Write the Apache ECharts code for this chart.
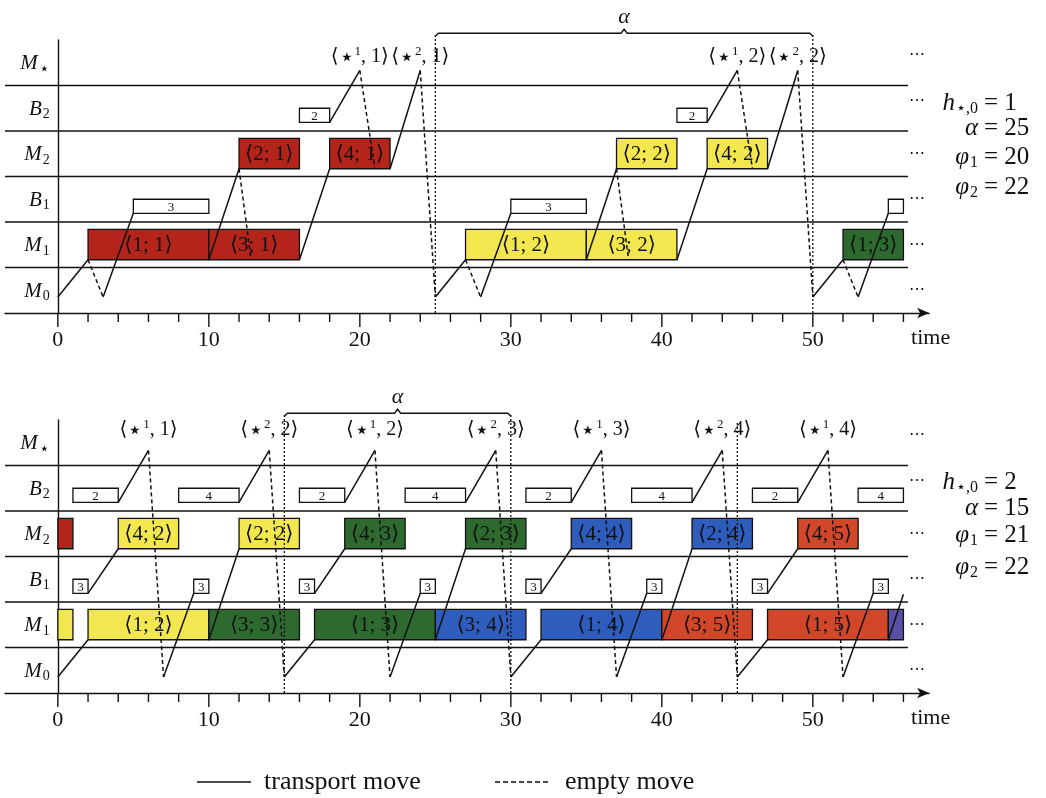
<!DOCTYPE html>
<html><head><meta charset="utf-8">
<script src="https://cdn.jsdelivr.net/npm/echarts@6/dist/echarts.min.js"></script>
<style>html,body{margin:0;padding:0;background:#fff}#c{width:1046px;height:798px}</style>
</head><body><div id="c"></div>
<script>
// ---------- data ----------
const rows = ['M0', 'M1', 'B1', 'M2', 'B2', 'M*'];
const rowLetter = {M0:'M', M1:'M', B1:'B', M2:'M', B2:'B', 'M*':'M'};
const rowSub = {M0:'0', M1:'1', B1:'1', M2:'2', B2:'2', 'M*':'⋆'};
const tickValues = [0,2,4,6,8,10,12,14,16,18,20,22,24,26,28,30,32,34,36,38,40,42,44,46,48,50,52,54,56];
const tickLabels = [0,10,20,30,40,50];
const legendNames = ['transport move', 'empty move'];

// top panel
const topJobs = [
  ['M1', 2, 10, '1; 1', 1], ['M1', 10, 16, '3; 1', 1], ['M2', 12, 16, '2; 1', 1], ['M2', 18, 22, '4; 1', 1],
  ['M1', 27, 35, '1; 2', 2], ['M1', 35, 41, '3; 2', 2], ['M2', 37, 41, '2; 2', 2], ['M2', 43, 47, '4; 2', 2],
  ['M1', 52, 56, '1; 3', 3]
];
const topBuffers = [['B1', 5, 10, '3'], ['B2', 16, 18, '2'], ['B1', 30, 35, '3'], ['B2', 41, 43, '2'], ['B1', 55, 56, '']];
const topTransport = [
  [0,'M0',2,'M1'], [3,'M0',5,'B1'], [10,'M1',12,'M2'], [16,'M1',18,'M2'], [18,'B2',20,'M*'], [22,'M2',24,'M*'],
  [25,'M0',27,'M1'], [28,'M0',30,'B1'], [35,'M1',37,'M2'], [41,'M1',43,'M2'], [43,'B2',45,'M*'], [47,'M2',49,'M*'],
  [50,'M0',52,'M1'], [53,'M0',55,'B1']
];
const topEmpty = [
  [2,'M1',3,'M0'], [12,'M2',12.8,'M1'], [20,'M*',21,'M2'], [24,'M*',25,'M0'], [27,'M1',28,'M0'],
  [37,'M2',37.8,'M1'], [45,'M*',46,'M2'], [49,'M*',50,'M0'], [52,'M1',53,'M0']
];
const topStars = [[20,'1','1'], [24,'2','1'], [45,'1','2'], [49,'2','2']];
const topBracket = [25, 50];
const topPeriodLines = [25, 50];
const topOpenLines = [];
const topParams = [['h','⋆,0','1'], ['α','','25'], ['φ','1','20'], ['φ','2','22']];

// bottom panel
const botJobs = [
  ['M2', 0, 1, '', 1], ['M1', 0, 1, '', 2],
  ['M1', 2, 10, '1; 2', 2], ['M2', 4, 8, '4; 2', 2], ['M1', 10, 16, '3; 3', 3], ['M2', 12, 16, '2; 2', 2],
  ['M1', 17, 25, '1; 3', 3], ['M2', 19, 23, '4; 3', 3], ['M1', 25, 31, '3; 4', 4], ['M2', 27, 31, '2; 3', 3],
  ['M1', 32, 40, '1; 4', 4], ['M2', 34, 38, '4; 4', 4], ['M1', 40, 46, '3; 5', 5], ['M2', 42, 46, '2; 4', 4],
  ['M1', 47, 55, '1; 5', 5], ['M2', 49, 53, '4; 5', 5], ['M1', 55, 56, '', 6]
];
const botBuffers = [
  ['B1', 1, 2, '3'], ['B2', 1, 4, '2'], ['B1', 9, 10, '3'], ['B2', 8, 12, '4'], ['B1', 16, 17, '3'], ['B2', 16, 19, '2'],
  ['B1', 24, 25, '3'], ['B2', 23, 27, '4'], ['B1', 31, 32, '3'], ['B2', 31, 34, '2'], ['B1', 39, 40, '3'], ['B2', 38, 42, '4'],
  ['B1', 46, 47, '3'], ['B2', 46, 49, '2'], ['B1', 54, 55, '3'], ['B2', 53, 56, '4']
];
const botTransport = [
  [0,'M0',2,'M1'], [2,'B1',4,'M2'], [4,'B2',6,'M*'], [7,'M0',9,'B1'], [10,'M1',12,'M2'], [12,'B2',14,'M*'],
  [15,'M0',17,'M1'], [17,'B1',19,'M2'], [19,'B2',21,'M*'], [22,'M0',24,'B1'], [25,'M1',27,'M2'], [27,'B2',29,'M*'],
  [30,'M0',32,'M1'], [32,'B1',34,'M2'], [34,'B2',36,'M*'], [37,'M0',39,'B1'], [40,'M1',42,'M2'], [42,'B2',44,'M*'],
  [45,'M0',47,'M1'], [47,'B1',49,'M2'], [49,'B2',51,'M*'], [52,'M0',54,'B1'], [55,'M1',57,'M2']
];
const botEmpty = [
  [6,'M*',7,'M0'], [14,'M*',15,'M0'], [21,'M*',22,'M0'], [29,'M*',30,'M0'], [36,'M*',37,'M0'], [44,'M*',45,'M0'], [51,'M*',52,'M0']
];
const botStars = [[6,'1','1'], [14,'2','2'], [21,'1','2'], [29,'2','3'], [36,'1','3'], [44,'2','4'], [51,'1','4']];
const botBracket = [15, 30];
const botPeriodLines = [15, 30];
const botOpenLines = [45];
const botParams = [['h','⋆,0','2'], ['α','','15'], ['φ','1','21'], ['φ','2','22']];

// ---------- styles ----------
const FONT = "'Liberation Serif','DejaVu Serif',serif";
const INK = '#111';
const COLORS = {1:'#b5241b', 2:'#f3e74f', 3:'#2e6a30', 4:'#2e5dbd', 5:'#d2462a', 6:'#5a4fa6'};
const ANCHOR = {M0:-0.15, M1:-0.33, B1:-0.31, M2:-0.33, B2:-0.31, 'M*':-0.17};
const CLIP_T = 56, ROWLINE_X0 = -3.5, ROWLINE_X1 = 56.3, DOTS_T = 56.9, BRACKET_UP = 0.65;

function pt(api, t, r, off) {
  const c = api.coord([t, rows.indexOf(r)]);
  const b = api.size([0, 1])[1];
  return [c[0], c[1] - (off === undefined ? ANCHOR[r] : off) * b];
}

function panel(p, d) {
  const base = {type: 'custom', xAxisIndex: p, yAxisIndex: p, clip: false, silent: true};
  const out = [];
  // row labels
  out.push(Object.assign({}, base, {z: 6,
    data: rows.map((r, i) => [0, i]),
    renderItem: (params, api) => {
      const r = rows[params.dataIndex];
      const a = pt(api, 0, r, 0);
      const star = r === 'M*';
      return {type: 'text', x: a[0] - 8, y: a[1] + 1, style: {
        text: '{m|' + rowLetter[r] + '}{' + (star ? 'st' : 's') + '|' + rowSub[r] + '}', align: 'right', verticalAlign: 'middle',
        rich: {m: {fontFamily: FONT, fontStyle: 'italic', fontSize: 21, fill: INK},
               s: {fontFamily: FONT, fontSize: 14, fill: INK, padding: [11, 0, 0, 1]},
               st: {fontFamily: FONT, fontSize: 17, fill: INK, padding: [11, 0, 0, 1]}}}};
    }}));
  // row separator lines
  out.push(Object.assign({}, base, {z: 1,
    data: [0,1,2,3,4].map(i => [ROWLINE_X0, i]),
    renderItem: (params, api) => {
      const r = rows[params.dataIndex];
      const a = pt(api, ROWLINE_X0, r, 0.5), b = pt(api, ROWLINE_X1, r, 0.5);
      return {type: 'line', shape: {x1: a[0], y1: a[1], x2: b[0], y2: b[1]}, style: {stroke: INK, lineWidth: 1.5}};
    }}));
  // jobs
  out.push(Object.assign({}, base, {z: 3,
    data: d.jobs.map(j => [j[1], rows.indexOf(j[0]), j[2]]),
    renderItem: (params, api) => {
      const j = d.jobs[params.dataIndex];
      const a = pt(api, j[1], j[0], 0.34), b = pt(api, j[2], j[0], -0.33);
      const ch = [{type: 'rect', shape: {x: a[0], y: a[1], width: b[0] - a[0], height: b[1] - a[1]},
        style: {fill: COLORS[j[4]], stroke: INK, lineWidth: 1.3}}];
      if (j[3]) ch.push({type: 'text', x: (a[0] + b[0]) / 2, y: (a[1] + b[1]) / 2 + 1,
        style: {text: '⟨' + j[3] + '⟩', fill: INK, font: '21px ' + FONT, align: 'center', verticalAlign: 'middle'}});
      return {type: 'group', children: ch};
    }}));
  // buffer boxes
  out.push(Object.assign({}, base, {z: 3,
    data: d.buffers.map(j => [j[1], rows.indexOf(j[0]), j[2]]),
    renderItem: (params, api) => {
      const j = d.buffers[params.dataIndex];
      const a = pt(api, j[1], j[0], 0.0), b = pt(api, j[2], j[0], -0.31);
      const ch = [{type: 'rect', shape: {x: a[0], y: a[1], width: b[0] - a[0], height: b[1] - a[1]},
        style: {fill: '#fff', stroke: INK, lineWidth: 1.3}}];
      if (j[3]) ch.push({type: 'text', x: (a[0] + b[0]) / 2, y: (a[1] + b[1]) / 2 + 1,
        style: {text: j[3], fill: INK, font: '13px ' + FONT, align: 'center', verticalAlign: 'middle'}});
      return {type: 'group', children: ch};
    }}));
  // period dotted lines (bracketed)
  out.push(Object.assign({}, base, {z: 4,
    data: d.periodLines.map(t => [t, 0]),
    renderItem: (params, api) => {
      const t = d.periodLines[params.dataIndex];
      const a = pt(api, t, 'M0', -0.5), b = pt(api, t, 'M*', BRACKET_UP);
      return {type: 'line', shape: {x1: a[0], y1: a[1], x2: b[0], y2: b[1]}, style: {stroke: INK, lineWidth: 1.3, lineDash: [2, 2]}};
    }}));
  out.push(Object.assign({}, base, {z: 4,
    data: d.openLines.map(t => [t, 0]),
    renderItem: (params, api) => {
      const t = d.openLines[params.dataIndex];
      const a = pt(api, t, 'M0', -0.5), b = pt(api, t, 'M*', 0.45);
      return {type: 'line', shape: {x1: a[0], y1: a[1], x2: b[0], y2: b[1]}, style: {stroke: INK, lineWidth: 1.3, lineDash: [2, 2]}};
    }}));
  // bracket
  out.push(Object.assign({}, base, {z: 4,
    data: [[d.bracket[0], 5]],
    renderItem: (params, api) => {
      const t0 = d.bracket[0], t1 = d.bracket[1], tm = (t0 + t1) / 2;
      const L = pt(api, t0, 'M*', BRACKET_UP), R = pt(api, t1, 'M*', BRACKET_UP), M = pt(api, tm, 'M*', BRACKET_UP);
      const y = L[1];
      return {type: 'group', children: [
        {type: 'polyline', shape: {points: [[L[0], y + 3], [L[0] + 3, y], [M[0] - 3, y], [M[0], y - 4], [M[0] + 3, y], [R[0] - 3, y], [R[0], y + 3]]},
          style: {stroke: INK, lineWidth: 1.4, fill: null}},
        {type: 'text', x: M[0], y: y - 16, style: {text: 'α', fill: INK, font: 'italic 22px ' + FONT, align: 'center', verticalAlign: 'middle'}}
      ]};
    }}));
  // moves
  const moveSeries = (list, dash) => Object.assign({}, base, {z: 5,
    data: list.map(m => [m[0], rows.indexOf(m[1]), m[2], rows.indexOf(m[3])]),
    renderItem: (params, api) => {
      const m = list[params.dataIndex];
      const a = pt(api, m[0], m[1]);
      let b = pt(api, m[2], m[3]);
      if (m[2] > CLIP_T) {
        const c = pt(api, CLIP_T, m[1]);
        const f = (c[0] - a[0]) / (b[0] - a[0]);
        b = [c[0], a[1] + f * (b[1] - a[1])];
      }
      return {type: 'line', shape: {x1: a[0], y1: a[1], x2: b[0], y2: b[1]},
        style: {stroke: INK, lineWidth: 1.5, lineDash: dash ? [4, 3] : null}};
    }});
  out.push(moveSeries(d.transport, false));
  out.push(moveSeries(d.empty, true));
  // star labels
  out.push(Object.assign({}, base, {z: 6,
    data: d.stars.map(s => [s[0], 5]),
    renderItem: (params, api) => {
      const s = d.stars[params.dataIndex];
      const a = pt(api, s[0], 'M*');
      return {type: 'text', x: a[0], y: a[1] - d.starLift,
        style: {text: '{t|⟨}{st|⋆}{p|' + s[1] + '}{t|, ' + s[2] + '⟩}', align: 'center', verticalAlign: 'bottom',
          rich: {t: {fontFamily: FONT, fontSize: 20, fill: INK},
                 st: {fontFamily: FONT, fontSize: 25, fill: INK, padding: [2, 0, 0, 0]},
                 p: {fontFamily: FONT, fontSize: 13, fill: INK, padding: [0, 0, 11, 0]}}}};
    }}));
  // continuation dots
  out.push(Object.assign({}, base, {z: 6,
    data: rows.map((r, i) => [DOTS_T, i]),
    renderItem: (params, api) => {
      const r = rows[params.dataIndex];
      const up = (r === 'M*' || r === 'B2') ? 0.17 : 0;
      const a = pt(api, DOTS_T, r, up);
      return {type: 'text', x: a[0], y: a[1], style: {text: '⋯', fill: INK, font: '16px ' + FONT, align: 'center', verticalAlign: 'middle'}};
    }}));
  // ticks
  out.push(Object.assign({}, base, {z: 6,
    data: tickValues.map(v => [v, 0]),
    renderItem: (params, api) => {
      const v = tickValues[params.dataIndex];
      const a = pt(api, v, 'M0', -0.5);
      const len = (v % 10 === 0) ? 14 : 9;
      return {type: 'line', shape: {x1: a[0], y1: a[1], x2: a[0], y2: a[1] + len}, style: {stroke: INK, lineWidth: 1.4}};
    }}));
  return out;
}

const series = []
  .concat(panel(0, {jobs: topJobs, buffers: topBuffers, transport: topTransport, empty: topEmpty, stars: topStars,
    bracket: topBracket, periodLines: topPeriodLines, openLines: topOpenLines, starLift: 0}))
  .concat(panel(1, {jobs: botJobs, buffers: botBuffers, transport: botTransport, empty: botEmpty, stars: botStars,
    bracket: botBracket, periodLines: botPeriodLines, openLines: botOpenLines, starLift: 7}));

function paramGraphics(list, ys) {
  const g = [];
  list.forEach((e, i) => {
    g.push({type: 'text', x: 978, y: ys[i], style: {text: '{i|' + e[0] + '}' + (e[1] ? '{s|' + e[1] + '}' : ''),
      align: 'right', verticalAlign: 'middle',
      rich: {i: {fontFamily: FONT, fontStyle: 'italic', fontSize: 25, fill: INK}, s: {fontFamily: FONT, fontSize: 16, fill: INK, padding: [12, 0, 0, 1]}}}});
    g.push({type: 'text', x: 984, y: ys[i], style: {text: '= ' + e[2], fill: INK, font: '25px ' + FONT, align: 'left', verticalAlign: 'middle'}});
  });
  return g;
}
const legendGraphics = [
  {type: 'line', shape: {x1: 197, y1: 782, x2: 251, y2: 782}, style: {stroke: INK, lineWidth: 1.6}},
  {type: 'text', x: 264, y: 782, style: {text: legendNames[0], fill: INK, font: '26px ' + FONT, align: 'left', verticalAlign: 'middle'}},
  {type: 'line', shape: {x1: 495, y1: 782, x2: 551, y2: 782}, style: {stroke: INK, lineWidth: 1.6, lineDash: [5, 3]}},
  {type: 'text', x: 565, y: 782, style: {text: legendNames[1], fill: INK, font: '26px ' + FONT, align: 'left', verticalAlign: 'middle'}}
];

const option = {
  animation: false,
  backgroundColor: '#fff',
  grid: [
    {left: 5, top: 40, width: 924.1, height: 273, outerBoundsMode: 'none', containLabel: false},
    {left: 5, top: 420, width: 924.1, height: 273, outerBoundsMode: 'none', containLabel: false}
  ],
  xAxis: [0, 1].map(i => ({
    gridIndex: i, type: 'value', min: -3.5, max: 57.7, minInterval: 10, maxInterval: 10,
    splitLine: {show: false}, axisTick: {show: false},
    axisLine: {show: true, onZero: false, lineStyle: {color: INK, width: 1.4}, symbol: ['none', 'arrow'], symbolSize: [8, 12]},
    axisLabel: {formatter: v => tickLabels.indexOf(v) >= 0 ? String(v) : '', color: INK, fontFamily: FONT, fontSize: 22, margin: 16},
    name: 'time', nameLocation: 'end', nameGap: -18,
    nameTextStyle: {color: INK, fontFamily: FONT, fontSize: 22, align: 'left', verticalAlign: 'top', padding: [14, 0, 0, 0]}
  })),
  yAxis: [0, 1].map(i => ({
    gridIndex: i, type: 'category', data: rows, boundaryGap: true,
    axisLine: {show: true, onZero: true, lineStyle: {color: INK, width: 1.4}},
    axisTick: {show: false}, splitLine: {show: false}, axisLabel: {show: false}
  })),
  graphic: paramGraphics(topParams, [103, 128, 157, 187]).concat(paramGraphics(botParams, [482, 508, 535, 567])).concat(legendGraphics),
  series: series
};

const chart = echarts.init(document.getElementById('c'), null, {renderer: 'canvas'});
chart.setOption(option);
</script>
</body></html>
